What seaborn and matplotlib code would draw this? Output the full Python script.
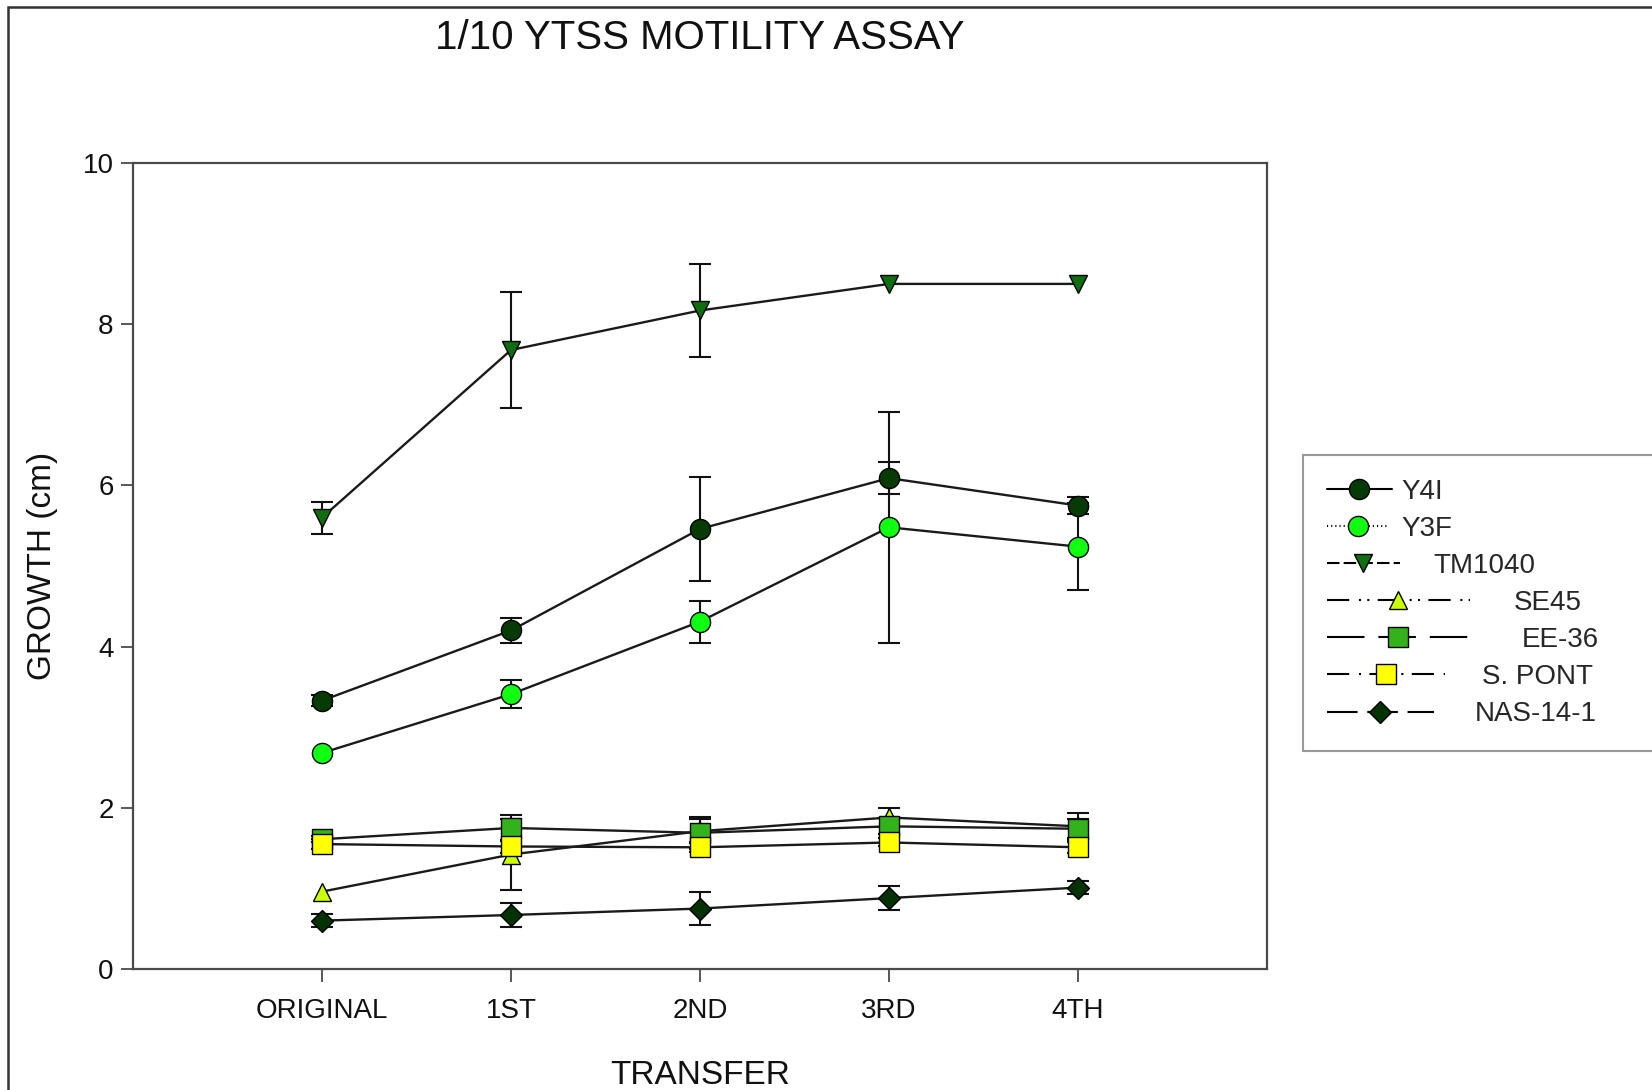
import numpy as np
import pandas as pd
import matplotlib
matplotlib.use("Agg")
import matplotlib.pyplot as plt
import seaborn as sns
from matplotlib.lines import Line2D
from matplotlib.patches import Rectangle
from matplotlib.legend_handler import HandlerLine2D
from matplotlib.transforms import Affine2D

# Data (growth in cm, +/- error bar half widths)
transfers = ["ORIGINAL", "1ST", "2ND", "3RD", "4TH"]
strains = ["Y4I", "Y3F", "TM1040", "SE45", "EE-36", "S. PONT", "NAS-14-1"]

y4i = [3.33, 4.20, 5.46, 6.09, 5.75]
y3f = [2.68, 3.41, 4.31, 5.48, 5.24]
tm1040 = [5.60, 7.68, 8.17, 8.50, 8.50]
se45 = [0.96, 1.42, 1.71, 1.88, 1.77]
ee36 = [1.61, 1.75, 1.69, 1.77, 1.74]
spont = [1.55, 1.52, 1.51, 1.57, 1.51]
nas141 = [0.60, 0.67, 0.75, 0.88, 1.01]

y4i_err = [0.07, 0.15, 0.64, 0.20, 0.11]
y3f_err = [np.nan, 0.17, 0.26, 1.43, 0.54]
tm1040_err = [0.20, 0.72, 0.58, np.nan, np.nan]
se45_err = [np.nan, 0.44, 0.15, 0.12, 0.17]
ee36_err = [0.04, 0.16, 0.20, 0.10, 0.12]
spont_err = [0.06, 0.08, 0.06, 0.05, 0.07]
nas141_err = [0.08, 0.15, 0.20, 0.15, 0.08]

values = [y4i, y3f, tm1040, se45, ee36, spont, nas141]
errors = [y4i_err, y3f_err, tm1040_err, se45_err, ee36_err, spont_err, nas141_err]

# styling per strain
face_colors = ["#063b06", "#11ff11", "#0f6e0f", "#ccff00", "#33b21b", "#ffff00", "#033303"]
markers = ["o", "o", "v", "^", "s", "s", "D"]
marker_sizes = [14.5, 14.5, 13, 13, 14, 14, 11]
# legend dash patterns (points), as drawn in the key
legend_styles = [
    "-",
    (0, (0.8, 2.2)),
    (0, (9, 3)),
    (0, (16, 7, 1.5, 4.5, 1.5, 6)),
    (0, (27, 10)),
    (0, (16, 7, 1.5, 6)),
    (0, (22, 7)),
]
handle_px = [65, 62, 73, 143, 142, 118, 107]
label_shift_px = [0, 0, 32, 112, 120, 80, 73]

df = pd.DataFrame({
    "strain": np.repeat(strains, len(transfers)),
    "pos": np.tile(np.arange(len(transfers)), len(strains)),
    "growth": np.concatenate(values),
    "err": np.concatenate(errors),
})

sns.set_style("ticks")
plt.rcParams["font.family"] = ["Liberation Sans", "DejaVu Sans"]
plt.rcParams["lines.scale_dashes"] = False

W, H = 1652, 1090
fig = plt.figure(figsize=(W / 100, H / 100), dpi=100)
ax = fig.add_axes([133 / W, 1 - 969 / H, (1267 - 133) / W, (969 - 163) / H])

for i, name in enumerate(strains):
    sub = df[df["strain"] == name]
    ax.errorbar(sub["pos"], sub["growth"], yerr=sub["err"], fmt="none",
                ecolor="#111111", elinewidth=1.5, capsize=8, capthick=1.5, zorder=2)
    sns.lineplot(data=sub, x="pos", y="growth", ax=ax, color="#1a1a1a", lw=1.7,
                 marker=markers[i], markersize=marker_sizes[i],
                 markerfacecolor=face_colors[i], markeredgecolor="black",
                 markeredgewidth=1.0, zorder=3 + i, legend=False)

ax.set_xlim(-1, 5)
ax.set_ylim(0, 10)
ax.set_xticks(range(len(transfers)))
ax.set_xticklabels(transfers)
ax.set_yticks([0, 2, 4, 6, 8, 10])
for s in ax.spines.values():
    s.set_color("#4a4a4a")
    s.set_linewidth(1.6)
ax.tick_params(axis="both", direction="out", length=9, width=1.3, color="#4a4a4a",
               labelsize=20, labelcolor="#111111")
ax.tick_params(axis="x", pad=12)
ax.tick_params(axis="y", pad=5)
ax.set_xlabel("TRANSFER", fontsize=24, labelpad=26, color="#111111")
ax.set_ylabel("GROWTH (cm)", fontsize=24, labelpad=18, color="#111111")
ax.set_title("1/10 YTSS MOTILITY ASSAY", fontsize=29, pad=82, color="#111111")


class StretchHandler(HandlerLine2D):
    def __init__(self, k, **kw):
        super().__init__(**kw)
        self.k = k

    def create_artists(self, legend, orig_handle, xdescent, ydescent, width, height, fontsize, trans):
        return super().create_artists(legend, orig_handle, xdescent, ydescent,
                                      width * self.k, height, fontsize, trans)


handles = [Line2D([], [], color="black", lw=1.5, linestyle=legend_styles[i],
                  marker=markers[i], markersize=marker_sizes[i],
                  markerfacecolor=face_colors[i], markeredgecolor="black",
                  markeredgewidth=1.0)
           for i in range(len(strains))]
fs_px = 20 / 72 * 100
hmap = {h: StretchHandler(px / handle_px[0]) for h, px in zip(handles, handle_px)}
leg = fig.legend(handles=handles, labels=strains, handler_map=hmap,
                 loc="upper left", mode="expand",
                 bbox_to_anchor=(1303 / W, 0, 0.5, 1 - 455 / H),
                 fontsize=20, frameon=True, fancybox=False, shadow=False,
                 handlelength=handle_px[0] / fs_px, handletextpad=10 / fs_px,
                 borderpad=0.85, labelspacing=0.40, borderaxespad=0)
leg.get_frame().set_edgecolor("#808080")
leg.get_frame().set_linewidth(1.5)
for txt, dx in zip(leg.get_texts(), label_shift_px):
    txt.set_transform(txt.get_transform() + Affine2D().translate(dx, 0))

# outer frame of the original graph page
fig.patches.append(Rectangle((8 / W, -0.05), 1.2, 1.05 - 7 / H, transform=fig.transFigure,
                             fill=False, edgecolor="#333333", linewidth=1.8))

fig.savefig("out.png", dpi=100)
